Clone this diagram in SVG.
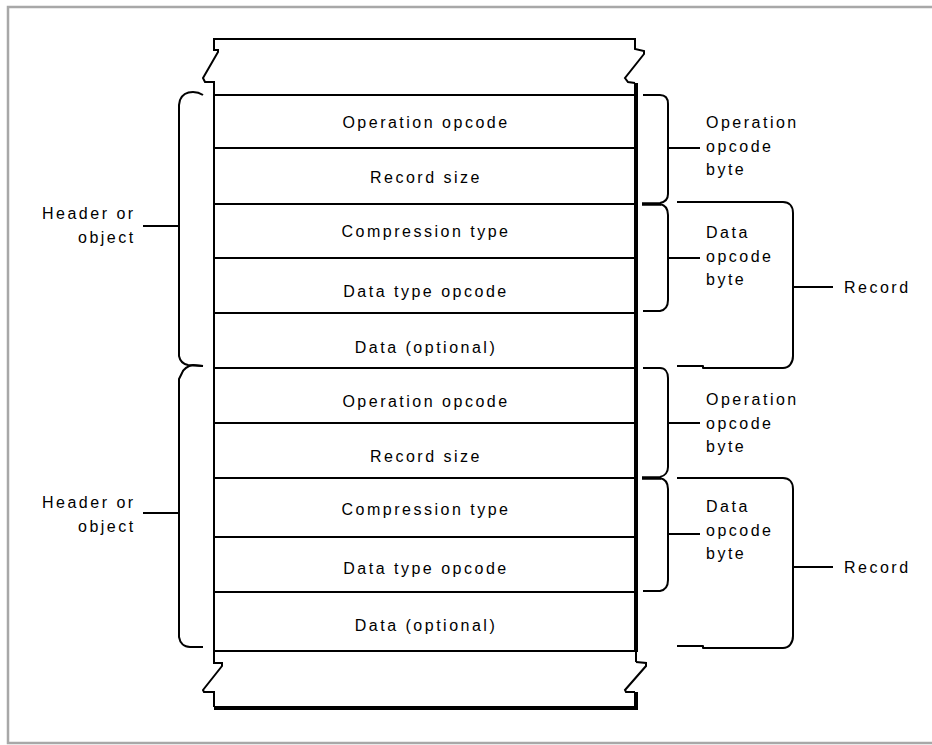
<svg xmlns="http://www.w3.org/2000/svg" width="932" height="745" viewBox="0 0 932 745">
  <style>
    text { font-family: "Liberation Sans", Arial, sans-serif; font-size: 16px; letter-spacing: 2.5px; fill: #000; }
    .mid { text-anchor: middle; }
    .ln { stroke: #000; stroke-width: 2; fill: none; }
    .thick { stroke: #000; stroke-width: 4; fill: none; }
    .br { stroke: #000; stroke-width: 2; fill: none; stroke-linejoin: round; }
    .frame { stroke: #a8a8a8; stroke-width: 2.5; fill: none; }
  </style>
  <rect x="0" y="0" width="932" height="745" fill="#fff"/>
  <!-- outer frame: top, left and bottom edges -->
  <path class="frame" d="M932,7 H8 V743 H932"/>

  <!-- the record stack with torn top and bottom -->
  <g id="stack">
    <path class="ln" d="M214,84 L214,82 L205,82 L203,78 L218,52 L218,50 L214,50 L214,39 L635,39 L635,49 L644,51 L644,54 L625,78 L628,82 L635,83"/>
    <path class="thick" d="M636,83 V652"/>
    <path class="ln" d="M214,83 V664"/>
    <path class="ln" d="M214,663 L222,663 L222,666 L203,690 L204,692 L214,692 L214,707"/>
    <path class="ln" d="M636,662 L646,663 L646,666 L625,690 L626,692 L635,692"/>
    <path class="thick" d="M636,692 V710 M214,708 H638"/>
    <path class="ln" d="M636,651 V662"/>
  </g>

  <g id="row1"><line class="ln" x1="214" y1="95" x2="635" y2="95"/><text class="mid" x="426" y="128">Operation opcode</text></g>
  <g id="row2"><line class="ln" x1="214" y1="148" x2="635" y2="148"/><text class="mid" x="426" y="183">Record size</text></g>
  <g id="row3"><line class="ln" x1="214" y1="204" x2="635" y2="204"/><text class="mid" x="426" y="237">Compression type</text></g>
  <g id="row4"><line class="ln" x1="214" y1="258" x2="635" y2="258"/><text class="mid" x="426" y="297">Data type opcode</text></g>
  <g id="row5"><line class="ln" x1="214" y1="313" x2="635" y2="313"/><text class="mid" x="426" y="353">Data (optional)</text></g>
  <g id="row6"><line class="ln" x1="214" y1="368" x2="635" y2="368"/><text class="mid" x="426" y="407">Operation opcode</text></g>
  <g id="row7"><line class="ln" x1="214" y1="423" x2="635" y2="423"/><text class="mid" x="426" y="462">Record size</text></g>
  <g id="row8"><line class="ln" x1="214" y1="478" x2="635" y2="478"/><text class="mid" x="426" y="515">Compression type</text></g>
  <g id="row9"><line class="ln" x1="214" y1="537" x2="635" y2="537"/><text class="mid" x="426" y="574">Data type opcode</text></g>
  <g id="row10"><line class="ln" x1="214" y1="592" x2="635" y2="592"/><text class="mid" x="426" y="631">Data (optional)</text></g>
  <g id="row11"><line class="ln" x1="214" y1="651" x2="635" y2="651"/></g>

  <!-- labels -->
  <g id="header1"><text x="42" y="219">Header or</text><text x="78" y="243">object</text></g>
  <g id="header2"><text x="42" y="508">Header or</text><text x="78" y="532">object</text></g>
  <g id="opbyte1"><text x="706" y="128">Operation</text><text x="706" y="152">opcode</text><text x="706" y="175">byte</text></g>
  <g id="databyte1"><text x="706" y="238">Data</text><text x="706" y="262">opcode</text><text x="706" y="285">byte</text></g>
  <g id="record1"><text x="844" y="293">Record</text></g>
  <g id="opbyte2"><text x="706" y="405">Operation</text><text x="706" y="429">opcode</text><text x="706" y="452">byte</text></g>
  <g id="databyte2"><text x="706" y="512">Data</text><text x="706" y="536">opcode</text><text x="706" y="559">byte</text></g>
  <g id="record2"><text x="844" y="573">Record</text></g>

  <!-- braces -->
  <g id="connectors">
    <path class="br" d="M203,95 C200,93 197,92 193,92 C187,92 182,95 180,100 L179,105 V356 C180,361 183,364 188,365 L203,366"/>
    <path class="br" d="M203,366 L193,365 C188,366 184,368 182,373 L179,379 V637 C180,643 184,647 190,647 H203"/>
    <path class="br" d="M143,226 H179 M143,513 H179"/>

    <path class="br" d="M643,95 H660 C665,95 668,98 668,104 V194 C668,199 665,202 660,203"/>
    <path class="br" d="M660,204 C665,205 668,209 668,215 V300 C668,306 665,310 660,311 H643"/>
    <line x1="642" y1="204" x2="661" y2="204" stroke="#000" stroke-width="3.5"/>
    <path class="br" d="M668,148 H700 M668,258 H700"/>
    <path class="br" d="M677,202 H783 C789,202 793,206 793,213 V356 C793,363 789,368 783,368 H703 L703,366 H677"/>
    <path class="br" d="M793,287 H833"/>

    <path class="br" d="M643,368 H660 C665,368 668,372 668,378 V467 C668,472 665,476 660,477"/>
    <path class="br" d="M660,478 C665,479 668,483 668,489 V580 C668,586 665,590 660,591 H643"/>
    <line x1="642" y1="478" x2="661" y2="478" stroke="#000" stroke-width="3.5"/>
    <path class="br" d="M668,423 H700 M668,534 H700"/>
    <path class="br" d="M677,478 H783 C789,478 793,482 793,489 V636 C793,643 789,648 783,648 H703 L703,646 H677"/>
    <path class="br" d="M793,567 H833"/>
  </g>
</svg>
